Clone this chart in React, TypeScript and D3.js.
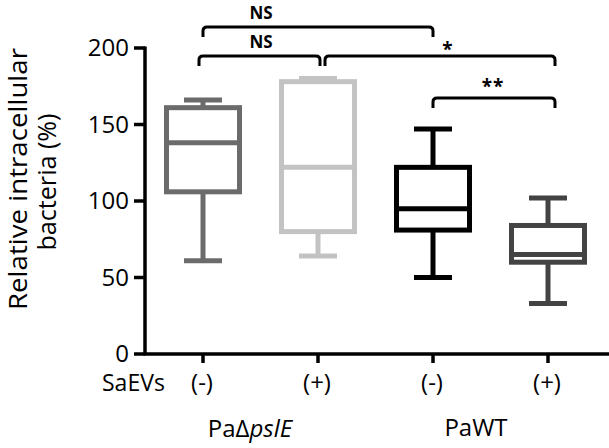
import React from "react";
import * as d3 from "d3";

// Groups along the x axis
const groups = ["ΔpslE (-)", "ΔpslE (+)", "WT (-)", "WT (+)"];
const saEVsLabels = ["(-)", "(+)", "(-)", "(+)"];
// Box statistics (%)
const whiskerLow = [61, 64, 50, 33];
const q1 = [106, 80, 81, 60];
const median = [138, 122, 95, 65];
const q3 = [161, 178, 122, 84];
const whiskerHigh = [166, 180, 147, 102];
const boxColors = ["#6b6b6b", "#c3c3c3", "#000000", "#434343"];
const yTicks = [0, 50, 100, 150, 200];

// Significance brackets between groups
const brackets = [
  { from: 0, to: 2, label: "NS", level: 0 },
  { from: 0, to: 1, label: "NS", level: 1 },
  { from: 1, to: 3, label: "*", level: 1 },
  { from: 2, to: 3, label: "**", level: 2 },
];

const W = 609;
const H = 448;
const FONT = "'Open Sans', Lato, sans-serif";

export default function App() {
  const x = d3.scalePoint<string>().domain(groups).range([203, 548]);
  const y = d3.scaleLinear().domain([0, 200]).range([354, 48]);
  const axisX = 145;
  const boxW = 73;
  const capW = 38;

  const levelY = [27, 56, 98];
  const tip = 10;

  return (
    <svg width={W} height={H} style={{ display: "block", position: "absolute", left: 0, top: 0, background: "#fff" }}>
      {/* y axis */}
      <line x1={axisX} x2={axisX} y1={y(200) - 1.5} y2={y(0)} stroke="#000" strokeWidth={3.5} />
      {yTicks.map((t) => (
        <g key={t}>
          <line x1={axisX - 11} x2={axisX} y1={y(t)} y2={y(t)} stroke="#000" strokeWidth={3.5} />
          <text x={axisX - 16} y={y(t)} dy="0.34em" textAnchor="end" fontFamily={FONT} fontSize={24} fill="#000">
            {t}
          </text>
        </g>
      ))}
      {/* x axis */}
      <line x1={axisX - 1.5} x2={W} y1={y(0)} y2={y(0)} stroke="#000" strokeWidth={3.5} />
      {groups.map((g, i) => (
        <g key={g}>
          <line x1={x(g)!} x2={x(g)!} y1={y(0)} y2={y(0) + 9} stroke="#000" strokeWidth={3.5} />
          <text x={x(g)! - 1} y={391} textAnchor="middle" fontFamily={FONT} fontSize={24} fill="#000">
            {saEVsLabels[i]}
          </text>
        </g>
      ))}
      <text x={102} y={391} fontFamily={FONT} fontSize={23} fill="#000">SaEVs</text>
      <text x={250} y={437} textAnchor="middle" fontFamily={FONT} fontSize={24} fill="#000">
        PaΔ<tspan fontStyle="italic">pslE</tspan>
      </text>
      <text x={476} y={436} textAnchor="middle" fontFamily={FONT} fontSize={24} fill="#000">PaWT</text>

      {/* y axis title */}
      <g transform="translate(0,179) rotate(-90)">
        <text x={0} y={27} textAnchor="middle" fontFamily={FONT} fontSize={25} fill="#000"
          textLength={262} lengthAdjust="spacingAndGlyphs">
          Relative intracellular
        </text>
        <text x={-3} y={56} textAnchor="middle" fontFamily={FONT} fontSize={25} fill="#000"
          textLength={137} lengthAdjust="spacingAndGlyphs">
          bacteria (%)
        </text>
      </g>

      {/* box plots */}
      {groups.map((g, i) => {
        const cx = x(g)!;
        const c = boxColors[i];
        return (
          <g key={g} stroke={c} strokeWidth={5} fill="none">
            <line x1={cx} x2={cx} y1={y(whiskerHigh[i])} y2={y(q3[i])} />
            <line x1={cx} x2={cx} y1={y(q1[i])} y2={y(whiskerLow[i])} />
            <line x1={cx - capW / 2} x2={cx + capW / 2} y1={y(whiskerHigh[i])} y2={y(whiskerHigh[i])} />
            <line x1={cx - capW / 2} x2={cx + capW / 2} y1={y(whiskerLow[i])} y2={y(whiskerLow[i])} />
            <rect x={cx - boxW / 2} y={y(q3[i])} width={boxW} height={y(q1[i]) - y(q3[i])} fill="#fff" />
            <line x1={cx - boxW / 2} x2={cx + boxW / 2} y1={y(median[i])} y2={y(median[i])} />
          </g>
        );
      })}

      {/* significance brackets */}
      {brackets.map((b, k) => {
        const x1 = x(groups[b.from])! + (b.from === 1 && b.to === 3 ? 7 : 0) - (b.from === 0 && b.to === 1 ? 4 : 0);
        const x2 = x(groups[b.to])! + (b.to === 3 ? 7 : b.to === 1 ? 2 : 0);
        const ly = levelY[b.level];
        const r = 4;
        const path = d3.path();
        path.moveTo(x1, ly + tip);
        path.lineTo(x1, ly + r);
        path.quadraticCurveTo(x1, ly, x1 + r, ly);
        path.lineTo(x2 - r, ly);
        path.quadraticCurveTo(x2, ly, x2, ly + r);
        path.lineTo(x2, ly + tip);
        const isNS = b.label === "NS";
        const labelX = isNS ? 261 : b.label === "*" ? 448 : 493;
        const labelY = isNS ? ly - 8 : b.label === "*" ? ly : ly - 5;
        return (
          <g key={k}>
            <path d={path.toString()} stroke="#000" strokeWidth={3} fill="none" />
            <text
              x={labelX}
              y={labelY}
              textAnchor="middle"
              fontFamily={FONT}
              fontWeight="bold"
              fontSize={isNS ? 17 : 19}
              fill="#000"
              letterSpacing={isNS ? 0 : 1}
            >
              {b.label}
            </text>
          </g>
        );
      })}
    </svg>
  );
}
